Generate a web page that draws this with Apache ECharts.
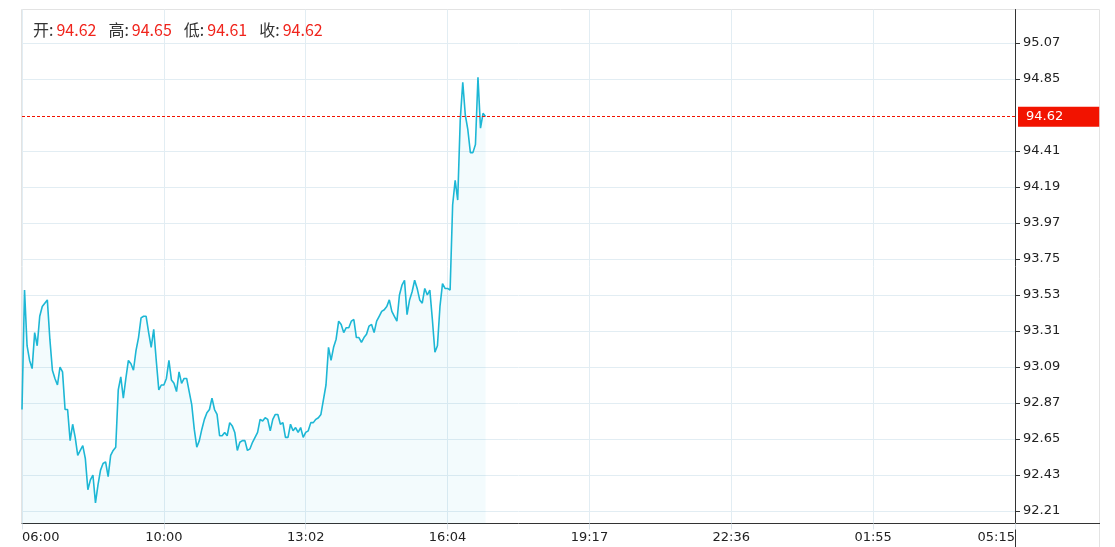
<!DOCTYPE html>
<html>
<head>
<meta charset="utf-8">
<script src="https://cdn.jsdelivr.net/npm/echarts@6/dist/echarts.min.js"></script>
<style>
html,body{margin:0;padding:0;background:#fff;}
#chart{width:1115px;height:547px;}
</style>
</head>
<body>
<div id="chart"></div>
<script>
// ---- data ----
const timeLabels = ['06:00', '10:00', '13:02', '16:04', '19:17', '22:36', '01:55', '05:15'];
const labelStep = 56;
const slotCount = 393;
const yTickValues = [92.21, 92.43, 92.65, 92.87, 93.09, 93.31, 93.53, 93.75, 93.97, 94.19, 94.41, 94.85, 95.07];
const ohlcNames = ['开', '高', '低', '收'];
const ohlcValues = ['94.62', '94.65', '94.61', '94.62'];
const lastPrice = 94.62;
const prices = [
  92.83,93.56,93.22,93.13,93.08,93.30,93.22,93.40,93.46,93.48,
  93.50,93.26,93.07,93.02,92.98,93.09,93.06,92.83,92.83,92.64,
  92.74,92.66,92.55,92.58,92.61,92.53,92.34,92.40,92.43,92.26,
  92.37,92.46,92.50,92.51,92.42,92.55,92.58,92.60,92.95,93.03,
  92.90,93.02,93.13,93.11,93.07,93.19,93.27,93.39,93.40,93.40,
  93.30,93.21,93.32,93.13,92.95,92.98,92.98,93.02,93.13,93.01,
  92.99,92.94,93.06,92.99,93.02,93.02,92.94,92.86,92.71,92.60,
  92.64,92.71,92.77,92.81,92.83,92.90,92.83,92.80,92.67,92.67,
  92.69,92.67,92.75,92.73,92.69,92.58,92.63,92.64,92.64,92.58,
  92.59,92.63,92.66,92.69,92.77,92.76,92.78,92.77,92.70,92.77,
  92.80,92.80,92.74,92.75,92.66,92.66,92.74,92.70,92.72,92.69,
  92.72,92.66,92.69,92.70,92.75,92.75,92.77,92.78,92.80,92.89,
  92.98,93.21,93.13,93.21,93.26,93.37,93.35,93.30,93.33,93.33,
  93.37,93.38,93.27,93.27,93.24,93.27,93.29,93.34,93.35,93.30,
  93.37,93.40,93.43,93.44,93.46,93.50,93.43,93.40,93.37,93.53,
  93.59,93.62,93.41,93.50,93.55,93.62,93.57,93.50,93.48,93.57,
  93.53,93.56,93.38,93.18,93.22,93.46,93.60,93.57,93.57,93.56,
  94.08,94.23,94.11,94.60,94.83,94.63,94.54,94.40,94.40,94.45,
  94.86,94.55,94.64,94.62
];
const categories = Array.from({length: slotCount}, (_, i) => i);

// ---- chart ----
const RED = '#f21300';
const GRIDC = '#e2edf3';
const chart = echarts.init(document.getElementById('chart'), null, {renderer: 'canvas'});
const titleText = ohlcNames.map((n, i) => '{l|' + n + ':}{v|' + ohlcValues[i] + '}').join('');

chart.setOption({
  animation: false,
  title: {
    left: 33, top: 19, padding: 0,
    text: titleText,
    textStyle: {
      fontFamily: 'Noto Sans CJK SC', fontSize: 16, fontWeight: 'normal', lineHeight: 22,
      rich: {
        l: {color: '#333', fontFamily: 'Noto Sans CJK SC', fontSize: 16, padding: [0, 3, 0, 0]},
        v: {color: '#f0241c', fontFamily: 'Noto Sans CJK SC', fontSize: 16, padding: [0, 12, 0, 0]}
      }
    }
  },
  grid: {left: 22, right: 100, top: 9.5, bottom: 23.5, containLabel: false},
  xAxis: {
    type: 'category',
    data: categories,
    boundaryGap: false,
    axisLine: {show: true, lineStyle: {color: '#333', width: 1}},
    axisTick: {show: true, interval: labelStep - 1, length: 6, lineStyle: {color: '#dde6ec'}},
    axisLabel: {
      interval: labelStep - 1,
      formatter: (v, idx) => timeLabels[Math.round(idx / labelStep)] || '',
      color: '#222', fontFamily: 'DejaVu Sans', fontSize: 13, margin: 8,
      alignMinLabel: 'left', alignMaxLabel: 'right'
    },
    splitLine: {show: true, interval: labelStep - 1, lineStyle: {color: GRIDC, width: 1}}
  },
  yAxis: {
    type: 'value',
    position: 'right',
    min: 92.1336,
    max: 95.2747,
    scale: true,
    axisLine: {show: true, lineStyle: {color: '#333', width: 1}},
    axisTick: {show: true, customValues: yTickValues, length: 5, lineStyle: {color: '#333'}},
    axisLabel: {
      customValues: yTickValues,
      formatter: v => v.toFixed(2),
      color: '#222', fontFamily: 'DejaVu Sans', fontSize: 13, margin: 8
    },
    splitLine: {show: true, lineStyle: {color: GRIDC, width: 1}}
  },
  series: [{
    type: 'line',
    data: prices,
    showSymbol: false,
    symbol: 'none',
    lineStyle: {color: '#1db7d5', width: 1.6},
    areaStyle: {color: 'rgba(29,183,213,0.07)', origin: 'start'},
    silent: true,
    markLine: {
      silent: true,
      symbol: ['none', 'none'],
      animation: false,
      data: [{yAxis: lastPrice}],
      lineStyle: {color: RED, type: [3, 2], width: 1},
      label: {
        show: true, position: 'end', distance: 3,
        formatter: lastPrice.toFixed(2),
        color: '#fff', backgroundColor: RED,
        fontFamily: 'DejaVu Sans', fontSize: 13,
        padding: [4, 36, 3, 8]
      },
      emphasis: {disabled: true}
    }
  }],
  graphic: [
    {type: 'polyline', silent: true, z: -1,
     shape: {points: [[21.5, 523.5], [21.5, 9.5], [1099.5, 9.5], [1099.5, 547]]},
     style: {stroke: '#e3e3e3', fill: null, lineWidth: 1}},
    {type: 'line', silent: true,
     shape: {x1: 1015, y1: 523.5, x2: 1100, y2: 523.5},
     style: {stroke: '#333', lineWidth: 1}},
    {type: 'line', silent: true,
     shape: {x1: 1015.5, y1: 523, x2: 1015.5, y2: 547},
     style: {stroke: '#333', lineWidth: 1}}
  ]
});
</script>
</body>
</html>
